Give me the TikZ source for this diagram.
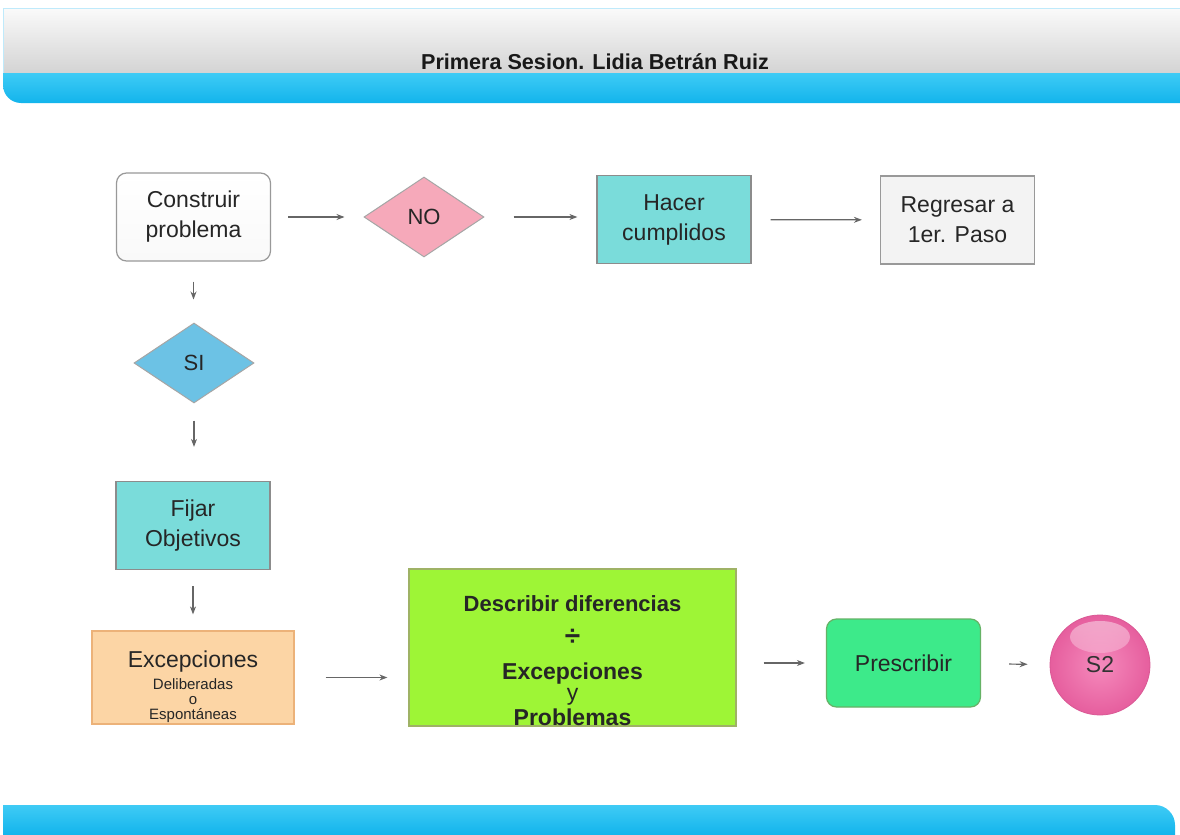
\documentclass[tikz,border=0pt]{standalone}
\usepackage{fontspec}
\setmainfont{Liberation Sans}
\usetikzlibrary{shapes.geometric,arrows.meta}

\definecolor{barraazul}{HTML}{12B4EC}
\definecolor{barraclara}{HTML}{3FCBF5}
\definecolor{gris}{HTML}{F3F3F3}
\definecolor{rosa}{HTML}{F6A9BA}
\definecolor{turquesa}{HTML}{7ADCDA}
\definecolor{celeste}{HTML}{6CC2E5}
\definecolor{durazno}{HTML}{FCD5A5}
\definecolor{lima}{HTML}{9EF536}
\definecolor{menta}{HTML}{3DEA8A}
\definecolor{fucsia}{HTML}{F263A6}

\begin{document}
\begin{tikzpicture}[x=0.5pt,y=-0.5pt,
    caja/.style={draw=black!40,line width=0.6pt,minimum width=77pt,minimum height=44pt,
        align=center,text=black!85,font=\fontsize{11.5}{15}\selectfont},
    rombo/.style={diamond,aspect=1.5,minimum width=60pt,minimum height=40pt,inner sep=0pt,
        draw=black!35,line width=0.5pt,text=black!85,font=\fontsize{11}{13}\selectfont},
    flecha/.style={draw=black!60,line width=0.6pt,-{Stealth[length=4pt,width=3pt]}}]
    \useasboundingbox (0,0) rectangle (1180,835);
    \fill[white] (0,0) rectangle (1180,835);

    % Encabezado
    \shade[top color=gris!40,bottom color=black!17,draw=cyan!25] (3,8) rectangle (1180,73);
    \shade[top color=barraclara,bottom color=barraazul]
        (1180,73) -- (3,73) -- (3,85) arc[start angle=180,end angle=90,radius=18] -- (1180,103) -- cycle;
    \node[font=\fontsize{10.8}{12}\selectfont\bfseries,text=black!90] (titulo) at (595,62)
        {Primera Sesion. Lidia Betrán Ruiz};

    % Pie
    \shade[top color=barraclara,bottom color=barraazul]
        (3,835) -- (3,805) -- (1155,805) arc[start angle=270,end angle=360,radius=20] -- (1175,835) -- cycle;

    % Fila superior
    \node[caja,rounded corners=5pt,top color=white,bottom color=gris!80!black!10] (construir) at (193.5,217) {Construir\\problema};
    \node[rombo,fill=rosa] (no) at (424,217) {NO};
    \node[caja,fill=turquesa,draw=black!45] (hacer) at (674,219.5) {Hacer\\cumplidos};
    \node[caja,fill=gris] (regresar) at (957.5,220) {Regresar a\\1er. Paso};

    % Columna izquierda
    \node[rombo,fill=celeste] (si) at (194,363) {SI};
    \node[caja,fill=turquesa,draw=black!45] (fijar) at (193,525.5) {Fijar\\Objetivos};
    \node[caja,fill=durazno,draw=orange!50!brown!60,minimum width=101pt,minimum height=46.5pt,inner sep=0pt] (excep) at (193,677.5)
        {\rule{0pt}{18pt}Excepciones\\[-4pt]
         {\fontsize{7.5}{8}\selectfont Deliberadas}\\[-7.5pt]
         {\fontsize{7.5}{8}\selectfont o}\\[-7.5pt]
         {\fontsize{7.5}{8}\selectfont\smash{Espontáneas}\rule[-2.5pt]{0pt}{2.5pt}}};

    % Fila inferior
    \node[caja,fill=lima,draw=lime!50!black!60,minimum width=163.5pt,minimum height=78.5pt,inner sep=0pt] (dif) at (572.5,647.5)
        {\rule{0pt}{21pt}{\bfseries\fontsize{11}{13}\selectfont Describir diferencias}\\[2pt]
         {\bfseries\fontsize{14}{16}\selectfont ÷}\\[2pt]
         {\bfseries Excepciones}\\[-4.5pt]
         y\\[-2.5pt]
         {\bfseries Problemas}};
    \node[caja,rounded corners=5pt,fill=menta,draw=green!50!black!60] (prescribir) at (903.5,663) {Prescribir};
    \node[circle,inner color=fucsia!75!white,outer color=fucsia!95!black,draw=fucsia!90!black,line width=0.4pt,
        minimum size=50pt,inner sep=0pt,text=black!80,font=\fontsize{11.5}{13}\selectfont,
        path picture={\shade[top color=white,bottom color=fucsia,opacity=0.45]
            ([yshift=-11pt]path picture bounding box.north) ellipse[x radius=15pt,y radius=8pt];}] (s2) at (1100,665) {S2};

    % Conectores
    \draw[flecha,shorten <=8.5pt,shorten >=9.5pt] (construir) -- (no);
    \draw[flecha,shorten <=14.5pt,shorten >=9.5pt] (no.east) -- (no.east -| hacer.west);
    \draw[flecha,shorten <=9.5pt,shorten >=9pt] (hacer) -- (regresar);
    \draw[flecha,shorten <=10pt,shorten >=11.5pt] (construir.south) -- (construir.south |- si.north);
    \draw[flecha,shorten <=8.5pt,shorten >=17pt] (si.south) -- (si.south |- fijar.north);
    \draw[flecha,shorten <=8pt,shorten >=8pt] (fijar) -- (excep);
    \draw[flecha,shorten <=15.5pt,shorten >=10.5pt] (excep.east) -- (excep.east -| dif.west);
    \draw[flecha,shorten <=13.5pt,shorten >=10.5pt] (dif.east |- prescribir) -- (prescribir);
    \draw[flecha,shorten <=14pt,shorten >=11pt] (prescribir) -- (s2);
\end{tikzpicture}
\end{document}
